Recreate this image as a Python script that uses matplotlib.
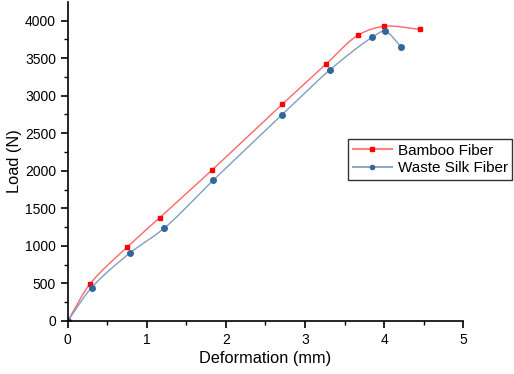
import matplotlib
matplotlib.use('Agg')
import matplotlib.pyplot as plt
import numpy as np
from matplotlib.lines import Line2D

plt.rcParams['font.family'] = ['Liberation Sans', 'DejaVu Sans']

# Bamboo fiber readings
bamboo_x = [0, 0.28, 0.75, 1.16, 1.82, 2.71, 3.27, 3.67, 4.00, 4.45]
bamboo_y = [0, 492, 983, 1373, 2006, 2884, 3424, 3805, 3924, 3885]

# Waste silk fiber readings
silk_x = [0, 0.30, 0.78, 1.22, 1.84, 2.71, 3.31, 3.85, 4.01, 4.22]
silk_y = [0, 443, 900, 1236, 1874, 2747, 3340, 3778, 3858, 3645]


def smooth(xs, ys, n=30):
    # centripetal catmull-rom through the measured points (just for the drawn line)
    p = np.column_stack([xs, ys]).astype(float)
    sc = np.array([1.0, 1 / 1000.0])
    q = p * sc
    q = np.vstack([2 * q[0] - q[1], q, 2 * q[-1] - q[-2]])
    out = []
    for i in range(1, len(q) - 2):
        p0, p1, p2, p3 = q[i - 1], q[i], q[i + 1], q[i + 2]
        t0 = 0.0
        t1 = t0 + np.linalg.norm(p1 - p0) ** 0.5
        t2 = t1 + np.linalg.norm(p2 - p1) ** 0.5
        t3 = t2 + np.linalg.norm(p3 - p2) ** 0.5
        t = np.linspace(t1, t2, n)[:, None]
        a1 = (t1 - t) / (t1 - t0) * p0 + (t - t0) / (t1 - t0) * p1
        a2 = (t2 - t) / (t2 - t1) * p1 + (t - t1) / (t2 - t1) * p2
        a3 = (t3 - t) / (t3 - t2) * p2 + (t - t2) / (t3 - t2) * p3
        b1 = (t2 - t) / (t2 - t0) * a1 + (t - t0) / (t2 - t0) * a2
        b2 = (t3 - t) / (t3 - t1) * a2 + (t - t1) / (t3 - t1) * a3
        c = (t2 - t) / (t2 - t1) * b1 + (t - t1) / (t2 - t1) * b2
        out.append(c)
    out = np.vstack(out) / sc
    return out[:, 0], out[:, 1]


fig = plt.figure(figsize=(5.14, 3.74), dpi=100)
ax = fig.add_axes([0.132, 0.142, 0.769, 0.853])

red = '#ff0000'
blue = '#336699'

sx, sy = smooth(bamboo_x, bamboo_y)
ax.plot(sx, sy, color='#ff6666', lw=1.0)
ax.plot(bamboo_x, bamboo_y, ls='none', marker='s', ms=3.5, color=red)

sx, sy = smooth(silk_x, silk_y)
ax.plot(sx, sy, color='#7f9fbf', lw=1.0)
ax.plot(silk_x, silk_y, ls='none', marker='o', ms=4, color=blue)

ax.set_xlim(0, 5)
ax.set_ylim(0, 4250)
ax.set_xticks([0, 1, 2, 3, 4, 5])
ax.set_xticks(np.arange(0.5, 5, 1), minor=True)
ax.set_yticks(np.arange(0, 4001, 500))
ax.set_yticks(np.arange(250, 4250, 500), minor=True)

for s in ['top', 'right']:
    ax.spines[s].set_visible(False)
for s in ['left', 'bottom']:
    ax.spines[s].set_linewidth(1.2)

ax.tick_params(which='major', direction='out', length=5, width=1.2, labelsize=10)
ax.tick_params(which='minor', direction='out', length=3, width=1.0)

ax.set_xlabel('Deformation (mm)', fontsize=11.8, labelpad=3)
ax.set_ylabel('Load (N)', fontsize=11.8, labelpad=2)

handles = [
    Line2D([], [], color='#ff8080', lw=1.5, marker='s', ms=3, mfc=red, mec=red),
    Line2D([], [], color='#8fabc7', lw=1.5, marker='o', ms=3, mfc=blue, mec=blue),
]
leg = fig.legend(handles, ['Bamboo Fiber', 'Waste Silk Fiber'],
                 loc='upper left', bbox_to_anchor=(348 / 514, 1 - 139 / 374),
                 fontsize=11, frameon=True, fancybox=False, framealpha=1,
                 edgecolor='#333333', borderpad=0.3, borderaxespad=0,
                 handlelength=2.6, handletextpad=0.35, labelspacing=0.25)
leg.get_frame().set_linewidth(1.0)

fig.savefig('out.png', dpi=100)
